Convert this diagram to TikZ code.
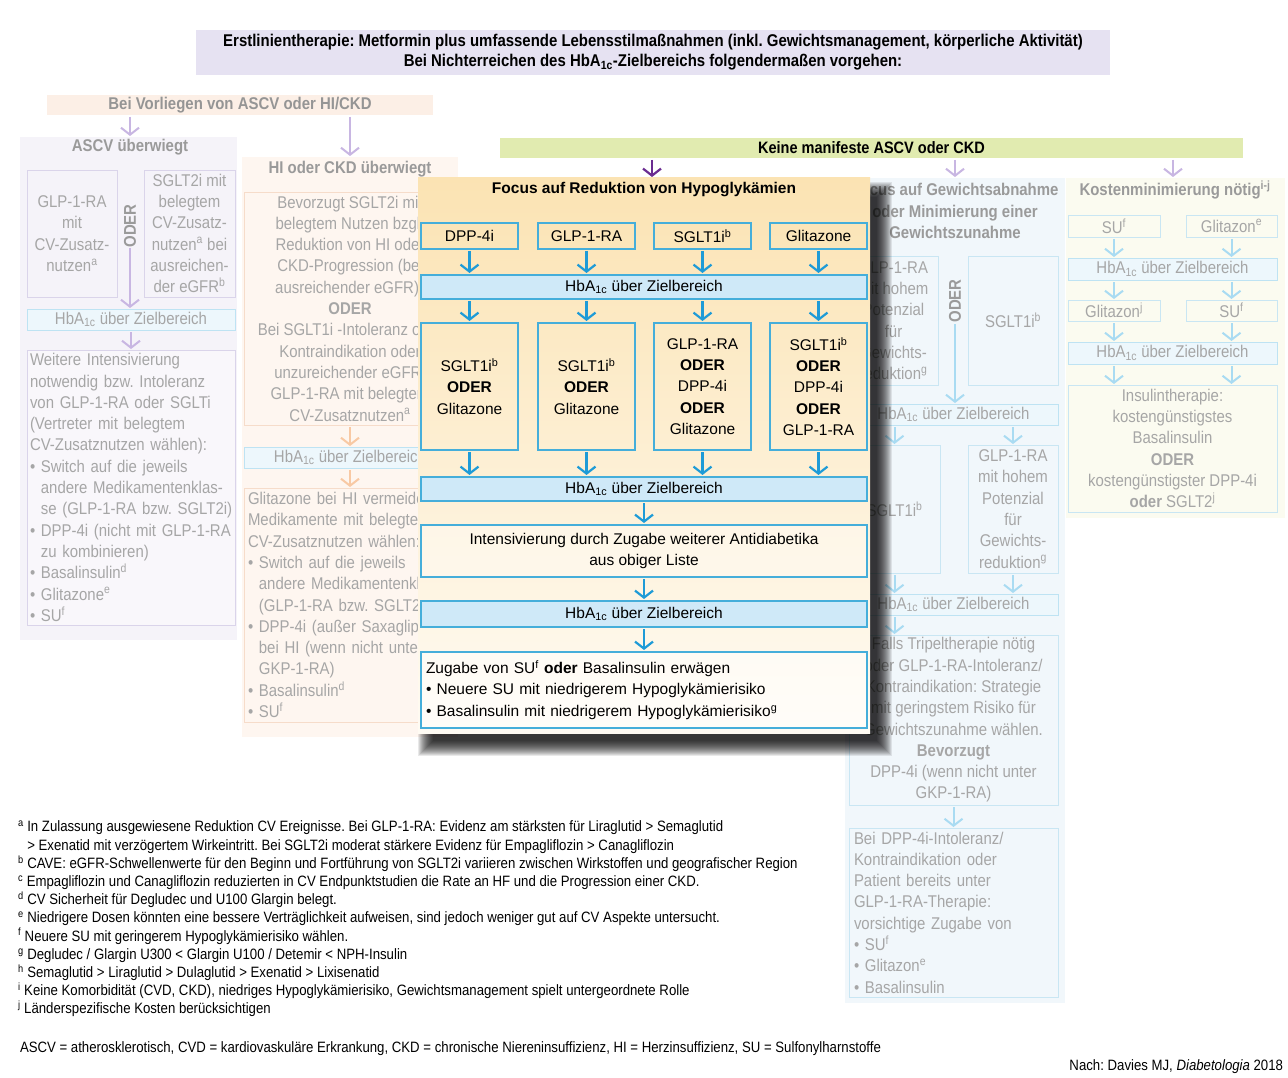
\documentclass[tikz,border=0pt]{standalone}
\usepackage{fontspec}
\setmainfont{Liberation Sans}[FakeStretch=0.88]
\newfontfamily\cfont{Liberation Sans}
\usetikzlibrary{arrows.meta}
\frenchspacing
\definecolor{hdr}{HTML}{E6E2F2}
\definecolor{peach}{HTML}{FCEFE6}
\definecolor{ascvbg}{HTML}{F5F3F9}
\definecolor{ascvln}{HTML}{DAD4EA}
\definecolor{purpA}{HTML}{C8B6E2}
\definecolor{hibg}{HTML}{FEF6F0}
\definecolor{hiln}{HTML}{F6DCCA}
\definecolor{orA}{HTML}{F8C9A4}
\definecolor{hbF}{HTML}{EDF7FC}
\definecolor{hbFl}{HTML}{BEE3F3}
\definecolor{grn}{HTML}{E1EBB0}
\definecolor{darkP}{HTML}{6B2C91}
\definecolor{focTop}{HTML}{FBE3B3}
\definecolor{focBot}{HTML}{FFFBF3}
\definecolor{cln}{HTML}{45AEDA}
\definecolor{hbC}{HTML}{CFE9F8}
\definecolor{cArr}{HTML}{1E9BD7}
\definecolor{wbg}{HTML}{F1F7FB}
\definecolor{wln}{HTML}{C9E6F3}
\definecolor{wArr}{HTML}{A9DBF2}
\definecolor{kbg}{HTML}{FBFBF0}
\definecolor{fg}{HTML}{A6A6A6}
\definecolor{fgb}{HTML}{9A9A9A}
\newcommand\fadesz{\frenchspacing\fontsize{17}{21.3}\selectfont}
\newcommand\censz{\frenchspacing\cfont\fontsize{15.5}{21.3}\selectfont}
\newcommand\footsz{\frenchspacing\fontsize{15}{18.2}\selectfont}
\newcommand\hba{HbA\textsubscript{1c}}
\newcommand\sps[1]{\textsuperscript{#1}}
\tikzset{
  nw/.style={anchor=north west},
  fb/.style={draw=#1, line width=0.9pt, nw, align=center, text=fg, font=\fadesz},
  fhb/.style={fb=hbFl, fill=hbF},
  ftitle/.style={text=fgb, font=\fadesz\bfseries, align=center},
  arF/.style={draw=#1, line width=2pt, -{Straight Barb[length=7pt,width=18pt]}, shorten <=2pt, shorten >=1pt},
  arC/.style={draw=cArr, line width=2.2pt, -{Straight Barb[length=7pt,width=18pt]}, shorten <=2pt, shorten >=2pt},
  cb/.style={draw=cln, line width=1.1pt, nw, align=center, font=\censz},
  chb/.style={cb, fill=hbC},
}
\begin{document}
\begin{tikzpicture}[x=1pt,y=-1pt, every node/.style={inner sep=0pt, outer sep=0pt}]
\useasboundingbox (0,0) rectangle (1288,1078);
\fill[white] (0,0) rectangle (1288,1078);

% header
\node[nw, fill=hdr, minimum width=914, minimum height=45, align=center,
  font=\frenchspacing\bfseries\fontsize{17}{20}\selectfont] (hdr) at (196,30)
  {Erstlinientherapie: Metformin plus umfassende Lebensstilmaßnahmen (inkl. Gewichtsmanagement, körperliche Aktivität)\\
   Bei Nichterreichen des \hba-Zielbereichs folgendermaßen vorgehen:};

% Bei Vorliegen
\node[nw, fill=peach, minimum width=386, minimum height=20, text=fg!90!black, font=\fadesz\bfseries] (vor) at (47,95) {Bei Vorliegen von ASCV oder HI/CKD};

% ASCV panel
\node[nw, fill=ascvbg, minimum width=217, minimum height=503] (ascv) at (20,137) {};
\node[ftitle] (ascvT) at (130,147) {ASCV überwiegt};
\coordinate (v1) at (130,115);
\draw[arF=purpA] (v1) -- (v1 |- ascv.north);
\node[fb=ascvln, minimum width=90, minimum height=127] (a1) at (27,170)
  {GLP-1-RA\\mit\\CV-Zusatz-\\nutzen\sps{a}};
\node[fb=ascvln, minimum width=91, minimum height=127] (a2) at (144,170)
  {SGLT2i mit\\belegtem\\CV-Zusatz-\\nutzen\sps{a} bei\\ausreichen-\\der eGFR\sps{b}};
\node[rotate=90, text=fgb, font=\fadesz\bfseries] (aO) at (130,226) {ODER};
\node[fhb, minimum width=208, minimum height=21] (ah) at (27,309) {\hba{} über Zielbereich};
\coordinate (ao) at (130,246);
\draw[arF=purpA] (ao) -- (ao |- ah.north);
\node[fb=ascvln, fill=white, fill opacity=0.4, text opacity=1, minimum width=208, minimum height=275, align=left, text width=202, inner xsep=3pt] (at) at (27,350)
  {Weitere Intensivierung\\
   notwendig bzw. Intoleranz\\
   von GLP-1-RA oder SGLTi\\
   (Vertreter mit belegtem\\
   CV-Zusatznutzen wählen):\\
   \mbox{• Switch auf die jeweils}\\
   \mbox{\phantom{•} andere Medikamentenklas-}\\
   \mbox{\phantom{•} se (GLP-1-RA bzw. SGLT2i)}\\
   \mbox{• DPP-4i (nicht mit GLP-1-RA}\\
   \phantom{•} zu kombinieren)\\
   • Basalinsulin\sps{d}\\
   • Glitazone\sps{e}\\
   • SU\sps{f}};
\draw[arF=purpA] (ah.south) -- (at.north);

% HI panel
\node[nw, fill=hibg, minimum width=216, minimum height=580] (hi) at (242,157) {};
\node[ftitle] (hiT) at (350,169) {HI oder CKD überwiegt};
\coordinate (v2) at (350,115);
\draw[arF=purpA] (v2) -- (v2 |- hi.north);
\node[fb=hiln, minimum width=212, minimum height=233] (h1) at (244,192)
  {Bevorzugt SGLT2i mit\\belegtem Nutzen bzgl.\\Reduktion von HI oder\\CKD-Progression (bei\\ausreichender eGFR)\sps{c}\\\textbf{ODER}\\Bei SGLT1i -Intoleranz oder\\Kontraindikation oder\\unzureichender eGFR:\\GLP-1-RA mit belegtem\\CV-Zusatznutzen\sps{a}};
\node[fhb, minimum width=212, minimum height=21] (hh) at (244,447) {\hba{} über Zielbereich};
\draw[arF=orA] (h1.south) -- (hh.north);
\node[fb=hiln, minimum width=212, minimum height=234, align=left, text width=204, inner xsep=4pt] (h2) at (244,488)
  {\mbox{Glitazone bei HI vermeiden.}\\
   \mbox{Medikamente mit belegtem}\\
   \mbox{CV-Zusatznutzen wählen:}\\
   \mbox{• Switch auf die jeweils}\\
   \mbox{\phantom{•} andere Medikamentenklasse}\\
   \mbox{\phantom{•} (GLP-1-RA bzw. SGLT2i)}\\
   \mbox{• DPP-4i (außer Saxagliptin)}\\
   \mbox{\phantom{•} bei HI (wenn nicht unter}\\
   \phantom{•} GKP-1-RA)\\
   • Basalinsulin\sps{d}\\
   • SU\sps{f}};
\draw[arF=orA] (hh.south) -- (h2.north);

% green bar
\node[nw, fill=grn, minimum width=743, minimum height=20, font=\bfseries\fontsize{16.5}{20}\selectfont] (gr) at (500,138) {Keine manifeste ASCV oder CKD};

% weight panel
\node[nw, fill=wbg, minimum width=220, minimum height=825] (wp) at (845,178) {};
\node[ftitle] (wT) at (955,211) {Focus auf Gewichtsabnahme\\oder Minimierung einer\\Gewichtszunahme};
\coordinate (g2) at (955,158);
\draw[arF=purpA] (g2) -- (g2 |- wp.north);
\node[fb=wln, minimum width=89, minimum height=129] (w1) at (849,256)
  {GLP-1-RA\\mit hohem\\Potenzial\\für\\Gewichts-\\reduktion\sps{g}};
\node[fb=wln, minimum width=90, minimum height=129] (w2) at (968,256) {SGLT1i\sps{b}};
\node[rotate=90, text=fgb, font=\fadesz\bfseries] (wO) at (955,301) {ODER};
\node[fhb, minimum width=209, minimum height=21] (w3) at (849,404) {\hba{} über Zielbereich};
\coordinate (wo) at (955,322);
\draw[arF=wArr] (wo) -- (wo |- w3.north);
\node[fb=wln, minimum width=91, minimum height=128] (w4) at (849,445) {SGLT1i\sps{b}};
\node[fb=wln, minimum width=90, minimum height=128] (w5) at (968,445)
  {GLP-1-RA\\mit hohem\\Potenzial\\für\\Gewichts-\\reduktion\sps{g}};
\draw[arF=wArr] (w3.south -| w4.north) -- (w4.north);
\draw[arF=wArr] (w3.south -| w5.north) -- (w5.north);
\node[fhb, minimum width=209, minimum height=21] (w6) at (849,594) {\hba{} über Zielbereich};
\draw[arF=wArr] (w4.south) -- (w4.south |- w6.north);
\draw[arF=wArr] (w5.south) -- (w5.south |- w6.north);
\node[fb=wln, minimum width=209, minimum height=170] (w7) at (849,635)
  {Falls Tripeltherapie nötig\\oder GLP-1-RA-Intoleranz/\\Kontraindikation: Strategie\\mit geringstem Risiko für\\Gewichtszunahme wählen.\\\textbf{Bevorzugt}\\DPP-4i (wenn nicht unter\\GKP-1-RA)};
\draw[arF=wArr] (w6.south -| w4.south) -- (w7.north -| w4.south);
\node[fb=wln, minimum width=209, minimum height=169, align=left, text width=199, inner xsep=5pt] (w8) at (849,828)
  {Bei DPP-4i-Intoleranz/\\
   Kontraindikation oder\\
   Patient bereits unter\\
   GLP-1-RA-Therapie:\\
   vorsichtige Zugabe von\\
   • SU\sps{f}\\
   • Glitazon\sps{e}\\
   • Basalinsulin};
\draw[arF=wArr] (w7.south) -- (w8.north);

% cost panel
\node[nw, fill=kbg, minimum width=219, minimum height=340] (kp) at (1066,178) {};
\node[ftitle] (kT) at (1175,190) {Kostenminimierung nötig\sps{i-j}};
\coordinate (g3) at (1173,158);
\draw[arF=purpA] (g3) -- (g3 |- kp.north);
\node[fb=wln, minimum width=92, minimum height=22] (k1) at (1068,215) {SU\sps{f}};
\node[fb=wln, minimum width=91, minimum height=22] (k2) at (1186,215) {Glitazon\sps{e}};
\node[fhb, minimum width=209, minimum height=22] (k3) at (1068,258) {\hba{} über Zielbereich};
\draw[arF=wArr] (k1.south) -- (k1.south |- k3.north);
\draw[arF=wArr] (k2.south) -- (k2.south |- k3.north);
\node[fb=wln, minimum width=92, minimum height=21] (k4) at (1068,300) {Glitazon\sps{j}};
\node[fb=wln, minimum width=91, minimum height=21] (k5) at (1186,300) {SU\sps{f}};
\draw[arF=wArr] (k3.south -| k4.north) -- (k4.north);
\draw[arF=wArr] (k3.south -| k5.north) -- (k5.north);
\node[fhb, minimum width=209, minimum height=22] (k6) at (1068,342) {\hba{} über Zielbereich};
\draw[arF=wArr] (k4.south) -- (k4.south |- k6.north);
\draw[arF=wArr] (k5.south) -- (k5.south |- k6.north);
\node[fb=wln, minimum width=209, minimum height=127] (k7) at (1068,385)
  {Insulintherapie:\\kostengünstigstes\\Basalinsulin\\\textbf{ODER}\\kostengünstigster DPP-4i\\\textbf{oder} SGLT2\sps{j}};
\draw[arF=wArr] (k6.south -| k4.north) -- (k7.north -| k4.north);
\draw[arF=wArr] (k6.south -| k5.north) -- (k7.north -| k5.north);

% central shadow
\foreach \i in {0,...,15} {
  \fill[black, opacity=0.085] ({418+\i},{182+\i}) rectangle ({892-\i},{756-\i});
}
% central box
\node[nw, minimum width=452, minimum height=555, top color=focTop, bottom color=focBot] (fc) at (418,178) {};
\coordinate (g1) at (652,158);
\draw[draw=darkP, line width=2.2pt, -{Straight Barb[length=7pt,width=18pt]}, shorten <=2pt, shorten >=1pt] (g1) -- (g1 |- fc.north);
\node[font=\cfont\bfseries\fontsize{15.5}{20}\selectfont] (fT) at (644,190) {Focus auf Reduktion von Hypoglykämien};
\node[cb, minimum width=97, minimum height=26] (c1) at (421,223) {DPP-4i};
\node[cb, minimum width=97, minimum height=26] (c2) at (538,223) {GLP-1-RA};
\node[cb, minimum width=97, minimum height=26] (c3) at (654,223) {SGLT1i\sps{b}};
\node[cb, minimum width=97, minimum height=26] (c4) at (770,223) {Glitazone};
\node[chb, minimum width=446, minimum height=24] (cb1) at (421,275) {\hba{} über Zielbereich};
\foreach \n in {c1,c2,c3,c4} { \draw[arC] (\n.south) -- (\n.south |- cb1.north); }
\node[cb, minimum width=97, minimum height=127] (r1) at (421,323) {SGLT1i\sps{b}\\\textbf{ODER}\\Glitazone};
\node[cb, minimum width=97, minimum height=127] (r2) at (538,323) {SGLT1i\sps{b}\\\textbf{ODER}\\Glitazone};
\node[cb, minimum width=97, minimum height=127] (r3) at (654,323) {GLP-1-RA\\\textbf{ODER}\\DPP-4i\\\textbf{ODER}\\Glitazone};
\node[cb, minimum width=97, minimum height=127] (r4) at (770,323) {SGLT1i\sps{b}\\\textbf{ODER}\\DPP-4i\\\textbf{ODER}\\GLP-1-RA};
\foreach \n in {r1,r2,r3,r4} { \draw[arC] (cb1.south -| \n.north) -- (\n.north); }
\node[chb, minimum width=446, minimum height=24] (cb2) at (421,477) {\hba{} über Zielbereich};
\foreach \n in {r1,r2,r3,r4} { \draw[arC] (\n.south) -- (\n.south |- cb2.north); }
\node[cb, fill=white, fill opacity=0.35, text opacity=1, minimum width=446, minimum height=52] (ci) at (421,525) {Intensivierung durch Zugabe weiterer Antidiabetika\\aus obiger Liste};
\draw[arC] (cb2.south) -- (ci.north);
\node[chb, minimum width=446, minimum height=26] (cb3) at (421,601) {\hba{} über Zielbereich};
\draw[arC] (ci.south) -- (cb3.north);
\node[cb, fill=white, fill opacity=0.5, text opacity=1, minimum width=446, minimum height=76, align=left, text width=436, inner xsep=5pt] (cz) at (421,652)
  {Zugabe von SU\sps{f} \textbf{oder} Basalinsulin erwägen\\
   • Neuere SU mit niedrigerem Hypoglykämierisiko\\
   • Basalinsulin mit niedrigerem Hypoglykämierisiko\sps{g}};
\draw[arC] (cb3.south) -- (cz.north);

% footnotes
\node[nw, align=left, font=\footsz] (fn) at (18,821)
  {\sps{a} In Zulassung ausgewiesene Reduktion CV Ereignisse. Bei GLP-1-RA: Evidenz am stärksten für Liraglutid > Semaglutid\\
   \phantom{\sps{a}} > Exenatid mit verzögertem Wirkeintritt. Bei SGLT2i moderat stärkere Evidenz für Empagliflozin > Canagliflozin\\
   \sps{b} CAVE: eGFR-Schwellenwerte für den Beginn und Fortführung von SGLT2i variieren zwischen Wirkstoffen und geografischer Region\\
   \sps{c} Empagliflozin und Canagliflozin reduzierten in CV Endpunktstudien die Rate an HF und die Progression einer CKD.\\
   \sps{d} CV Sicherheit für Degludec und U100 Glargin belegt.\\
   \sps{e} Niedrigere Dosen könnten eine bessere Verträglichkeit aufweisen, sind jedoch weniger gut auf CV Aspekte untersucht.\\
   \sps{f} Neuere SU mit geringerem Hypoglykämierisiko wählen.\\
   \sps{g} Degludec / Glargin U300 < Glargin U100 / Detemir < NPH-Insulin\\
   \sps{h} Semaglutid > Liraglutid > Dulaglutid > Exenatid > Lixisenatid\\
   \sps{i} Keine Komorbidität (CVD, CKD), niedriges Hypoglykämierisiko, Gewichtsmanagement spielt untergeordnete Rolle\\
   \sps{j} Länderspezifische Kosten berücksichtigen};
\node[anchor=west, font=\footsz] (abbr) at (20,1049) {ASCV = atherosklerotisch, CVD = kardiovaskuläre Erkrankung, CKD = chronische Niereninsuffizienz, HI = Herzinsuffizienz, SU = Sulfonylharnstoffe};
\node[anchor=east, font=\footsz] (src) at (1283,1067) {Nach: Davies MJ, \textit{Diabetologia} 2018};
\end{tikzpicture}
\end{document}
